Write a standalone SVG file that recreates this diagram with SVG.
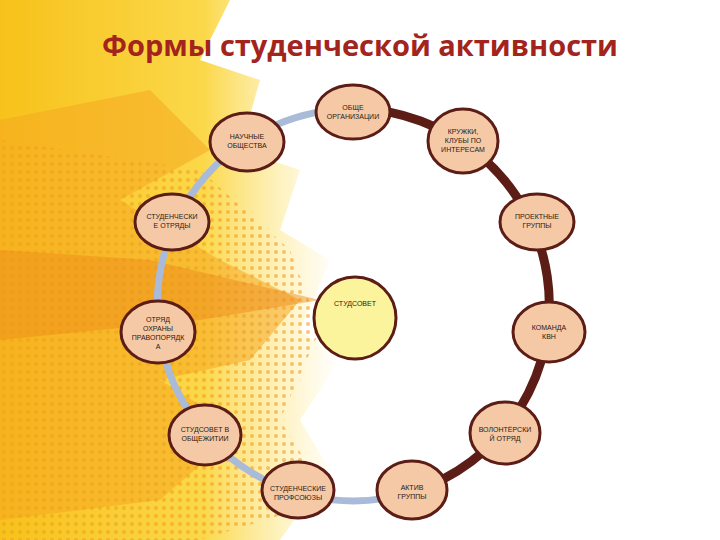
<svg xmlns="http://www.w3.org/2000/svg" width="720" height="540" viewBox="0 0 720 540">
<defs>
<style>
.n{fill:#f6c9a6;stroke:#5c1d16;stroke-width:3}
.t{font-family:"Liberation Sans",Arial,sans-serif;font-size:7px;fill:#2a1a10;text-anchor:middle}
</style>
<linearGradient id="bg" x1="0" y1="0" x2="1" y2="0">
<stop offset="0" stop-color="#f7c21a"/><stop offset="0.6" stop-color="#fbd84a"/><stop offset="1" stop-color="#fde98a" stop-opacity="0"/>
</linearGradient>
<pattern id="dots" width="8" height="8" patternUnits="userSpaceOnUse"><circle cx="4" cy="4" r="2" fill="#f0a020" opacity="0.6"/></pattern>
</defs>
<rect width="720" height="540" fill="#fff"/>
<g id="background">
<path d="M0 0 H230 L200 60 L260 80 L240 150 L300 170 L280 230 L330 260 L300 330 L340 360 L300 420 L330 470 L280 540 H0Z" fill="url(#bg)"/>
<path d="M0 120 L150 90 L210 150 L120 200 L220 260 L300 300 L250 360 L160 380 L240 430 L160 500 L0 520Z" fill="#f5a820" opacity="0.55"/>
<path d="M0 140 L200 170 L290 250 L320 330 L280 420 L330 500 L200 540 H0Z" fill="url(#dots)"/>
<path d="M0 250 L150 260 L320 300 L200 320 L0 340Z" fill="#ec8a18" opacity="0.45"/>
</g>
<text x="360" y="56" font-family="'Open Sans','Liberation Sans',sans-serif" font-size="29" font-weight="bold" fill="#a3241c" text-anchor="middle">Формы студенческой активности</text>
<g id="connectors" fill="none">
<path d="M355 109 A196 196 0 1 0 412 492" stroke="#a9bbd8" stroke-width="7"/>
<path d="M412 492 A196 196 0 0 0 355 109" stroke="#5c1d16" stroke-width="9"/>
</g>
<g id="n1"><ellipse class="n" cx="353" cy="112" rx="37" ry="27"/><text class="t" x="353" y="110">ОБЩЕ</text><text class="t" x="353" y="119">ОРГАНИЗАЦИИ</text></g>
<g id="n2"><ellipse class="n" cx="463" cy="141" rx="35" ry="32"/><text class="t" x="463" y="134">КРУЖКИ,</text><text class="t" x="463" y="143">КЛУБЫ ПО</text><text class="t" x="463" y="152">ИНТЕРЕСАМ</text></g>
<g id="n3"><ellipse class="n" cx="247" cy="142" rx="37" ry="29"/><text class="t" x="247" y="139">НАУЧНЫЕ</text><text class="t" x="247" y="148">ОБЩЕСТВА</text></g>
<g id="n4"><ellipse class="n" cx="172" cy="222" rx="37" ry="28"/><text class="t" x="172" y="219">СТУДЕНЧЕСКИ</text><text class="t" x="172" y="228">Е ОТРЯДЫ</text></g>
<g id="n5"><ellipse class="n" cx="537" cy="222" rx="37" ry="28"/><text class="t" x="537" y="219">ПРОЕКТНЫЕ</text><text class="t" x="537" y="228">ГРУППЫ</text></g>
<g id="center"><circle cx="355" cy="318" r="41" fill="#fbf49c" stroke="#5c1d16" stroke-width="3"/><text class="t" x="355" y="306" font-size="8">СТУДСОВЕТ</text></g>
<g id="n6"><ellipse class="n" cx="158" cy="332" rx="37" ry="31"/><text class="t" x="158" y="322">ОТРЯД</text><text class="t" x="158" y="331">ОХРАНЫ</text><text class="t" x="158" y="340">ПРАВОПОРЯДК</text><text class="t" x="158" y="349">А</text></g>
<g id="n7"><ellipse class="n" cx="549" cy="332" rx="36" ry="30"/><text class="t" x="549" y="330">КОМАНДА</text><text class="t" x="549" y="339">КВН</text></g>
<g id="n8"><ellipse class="n" cx="205" cy="435" rx="36" ry="30"/><text class="t" x="205" y="432">СТУДСОВЕТ В</text><text class="t" x="205" y="441">ОБЩЕЖИТИИ</text></g>
<g id="n9"><ellipse class="n" cx="505" cy="433" rx="35" ry="31"/><text class="t" x="505" y="432">ВОЛОНТЁРСКИ</text><text class="t" x="505" y="441">Й ОТРЯД</text></g>
<g id="n10"><ellipse class="n" cx="298" cy="490" rx="36" ry="28"/><text class="t" x="298" y="491">СТУДЕНЧЕСКИЕ</text><text class="t" x="298" y="500">ПРОФСОЮЗЫ</text></g>
<g id="n11"><ellipse class="n" cx="412" cy="490" rx="35" ry="29"/><text class="t" x="412" y="490">АКТИВ</text><text class="t" x="412" y="499">ГРУППЫ</text></g>
</svg>
